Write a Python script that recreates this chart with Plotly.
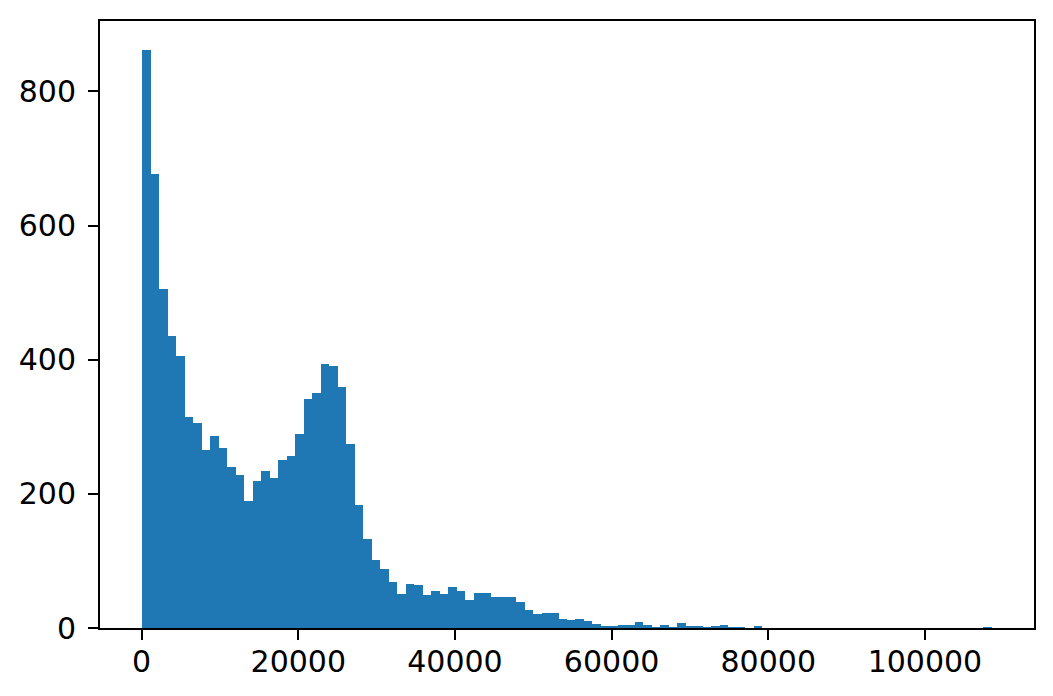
import plotly.graph_objects as go

# Histogram counts (100 equal-width bins)
bin_start = 107.0
bin_width = 1084.0
counts = [
    862, 677, 506, 436, 406, 315, 306, 266, 286, 268,
    240, 228, 190, 219, 234, 223, 250, 256, 289, 341,
    350, 393, 390, 359, 274, 183, 132, 101, 88, 68,
    51, 65, 64, 49, 55, 51, 61, 55, 42, 52,
    52, 46, 46, 46, 39, 27, 21, 22, 22, 13,
    12, 13, 10, 6, 2, 2, 5, 5, 9, 5,
    1, 4, 1, 7, 2, 2, 1, 2, 4, 1,
    1, 0, 3, 0, 0, 0, 0, 0, 0, 0,
    0, 0, 0, 0, 0, 0, 0, 0, 0, 0,
    0, 0, 0, 0, 0, 0, 0, 0, 0, 1,
]
x_ticks = [0, 20000, 40000, 60000, 80000, 100000]
y_ticks = [0, 200, 400, 600, 800]

centers = [bin_start + (i + 0.5) * bin_width for i in range(len(counts))]
x_max = bin_start + len(counts) * bin_width
span = x_max - bin_start

fig = go.Figure(
    go.Bar(
        x=centers,
        y=counts,
        width=[bin_width] * len(counts),
        marker=dict(color="#1f77b4", line=dict(width=0)),
    )
)

font = dict(family="DejaVu Sans", size=30, color="black")
fig.update_layout(
    width=1053,
    height=696,
    margin=dict(l=90, r=27, t=11, b=76),
    paper_bgcolor="white",
    plot_bgcolor="white",
    bargap=0,
    showlegend=False,
    font=font,
)
axis_common = dict(
    ticks="outside",
    ticklen=10,
    tickwidth=2,
    tickcolor="black",
    showline=True,
    linecolor="black",
    linewidth=2,
    mirror=True,
    showgrid=False,
    zeroline=False,
    tickfont=font,
)
fig.update_xaxes(
    range=[bin_start - 0.05 * span, x_max + 0.05 * span],
    tickvals=x_ticks,
    ticktext=[str(v) for v in x_ticks],
    ticklabelstandoff=-4,
    **axis_common,
)
fig.update_yaxes(
    range=[0, max(counts) * 1.05],
    tickvals=y_ticks,
    ticktext=[str(v) for v in y_ticks],
    ticklabelstandoff=6,
    **axis_common,
)

fig.write_html("out.html")
